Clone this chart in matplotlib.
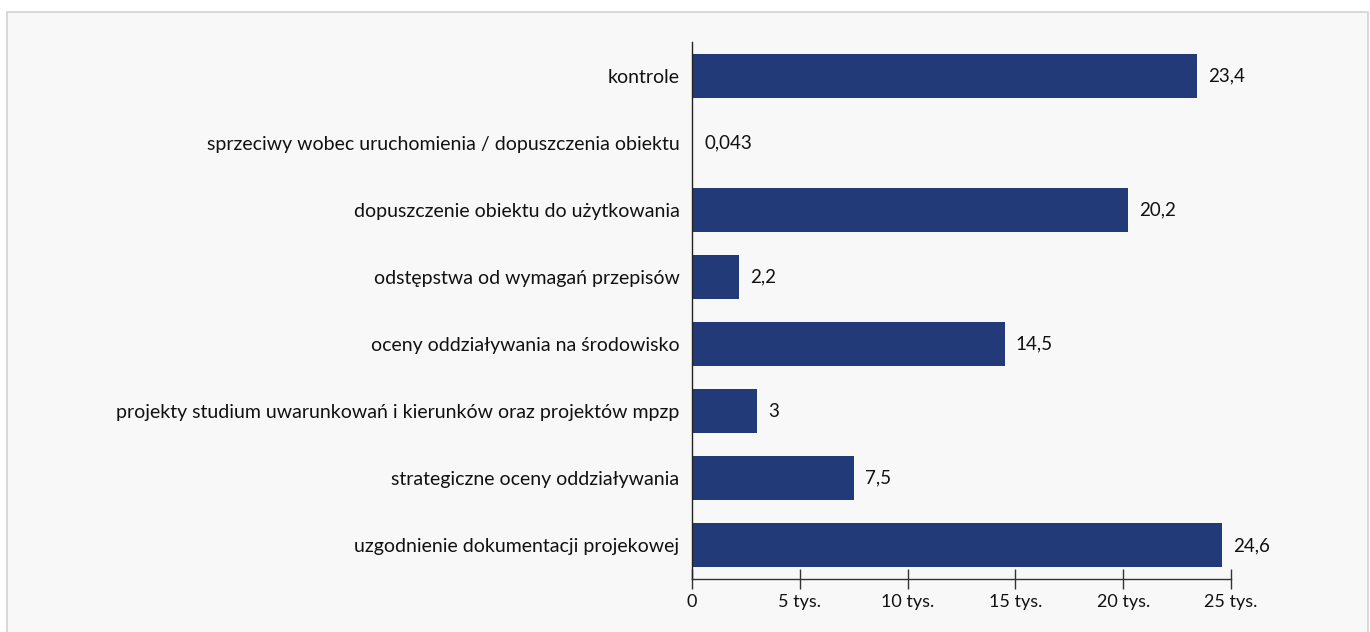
import matplotlib
matplotlib.use("Agg")
import matplotlib.pyplot as plt
from matplotlib.patches import Rectangle

# dane (w tys.)
categories = [
    "kontrole",
    "sprzeciwy wobec uruchomienia / dopuszczenia obiektu",
    "dopuszczenie obiektu do użytkowania",
    "odstępstwa od wymagań przepisów",
    "oceny oddziaływania na środowisko",
    "projekty studium uwarunkowań i kierunków oraz projektów mpzp",
    "strategiczne oceny oddziaływania",
    "uzgodnienie dokumentacji projekowej",
]
values = [23.4, 0.043, 20.2, 2.2, 14.5, 3, 7.5, 24.6]
value_labels = ["23,4", "0,043", "20,2", "2,2", "14,5", "3", "7,5", "24,6"]
tick_values = [0, 5, 10, 15, 20, 25]
tick_labels = ["0", "5 tys.", "10 tys.", "15 tys.", "20 tys.", "25 tys."]

plt.rcParams['font.family'] = ['Lato', 'DejaVu Sans']

fig = plt.figure(figsize=(13.7, 6.32), dpi=100)
fig.patch.set_facecolor("white")

# panel tla
panel = Rectangle((7 / 1370, -0.01), 1361 / 1370, 1 - 12 / 632 + 0.01,
                  transform=fig.transFigure, facecolor="#f8f8f8",
                  edgecolor="#d2d2d2", linewidth=1.2, zorder=-5)
fig.patches.append(panel)

ax = fig.add_axes([692 / 1370, 1 - 579 / 632, 539 / 1370, 537 / 632])
ax.set_zorder(1)
ax.set_facecolor("none")

y = range(len(categories))
ax.barh(list(y), values, height=0.655, color="#233a79", zorder=2)

for yi, v, lab in zip(y, values, value_labels):
    ax.annotate(lab, (v, yi), xytext=(8, 0), textcoords="offset points",
                va="center", ha="left", fontsize=13.5, color="#111111",
                annotation_clip=False)

ax.set_ylim(len(categories) - 0.5, -0.5)
ax.set_xlim(0, 25)
ax.set_yticks(list(y))
ax.set_yticklabels(categories, fontsize=14, color="#111111")
ax.tick_params(axis="y", length=0, pad=9)
ax.set_xticks(tick_values)
ax.set_xticklabels(tick_labels, fontsize=13, color="#111111")
ax.tick_params(axis="x", direction="inout", length=14, width=1, color="#333333", pad=4)

for s in ["top", "right"]:
    ax.spines[s].set_visible(False)
ax.spines["left"].set_color("#222222")
ax.spines["bottom"].set_color("#333333")
ax.spines["left"].set_linewidth(1)
ax.spines["bottom"].set_linewidth(1)

fig.savefig("out.png", dpi=100, facecolor=fig.get_facecolor())
